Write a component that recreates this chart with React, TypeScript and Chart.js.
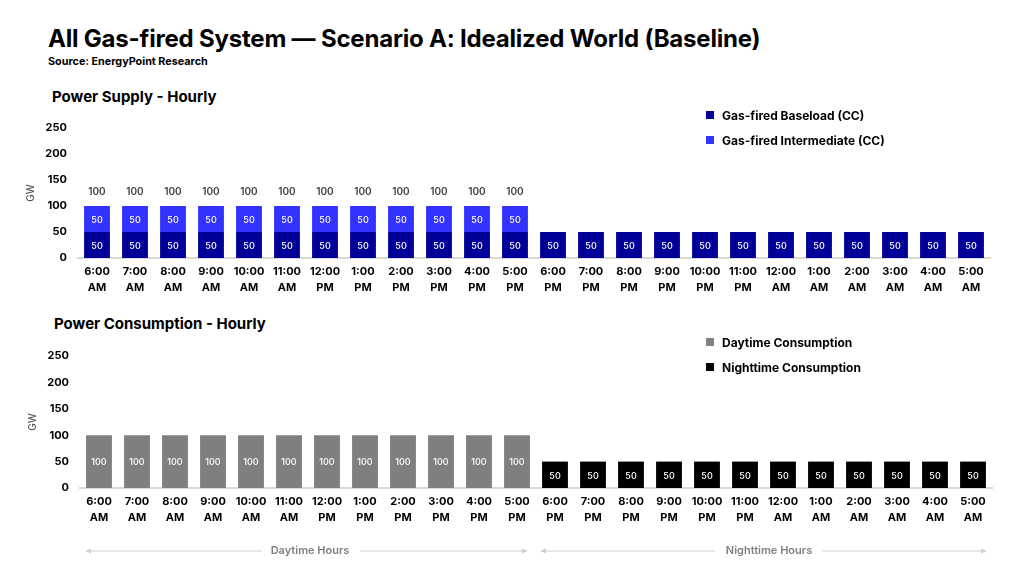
import React, { useEffect, useRef } from 'react';
import { Chart, registerables } from 'chart.js';
Chart.register(...registerables);

const hourLabels: string[][] = [
  ['6:00', 'AM'], ['7:00', 'AM'], ['8:00', 'AM'], ['9:00', 'AM'], ['10:00', 'AM'], ['11:00', 'AM'],
  ['12:00', 'PM'], ['1:00', 'PM'], ['2:00', 'PM'], ['3:00', 'PM'], ['4:00', 'PM'], ['5:00', 'PM'],
  ['6:00', 'PM'], ['7:00', 'PM'], ['8:00', 'PM'], ['9:00', 'PM'], ['10:00', 'PM'], ['11:00', 'PM'],
  ['12:00', 'AM'], ['1:00', 'AM'], ['2:00', 'AM'], ['3:00', 'AM'], ['4:00', 'AM'], ['5:00', 'AM'],
];

const supplyBaseload = [50, 50, 50, 50, 50, 50, 50, 50, 50, 50, 50, 50, 50, 50, 50, 50, 50, 50, 50, 50, 50, 50, 50, 50];
const supplyIntermediate = [50, 50, 50, 50, 50, 50, 50, 50, 50, 50, 50, 50, 0, 0, 0, 0, 0, 0, 0, 0, 0, 0, 0, 0];
const consumptionDay = [100, 100, 100, 100, 100, 100, 100, 100, 100, 100, 100, 100, null, null, null, null, null, null, null, null, null, null, null, null];
const consumptionNight = [null, null, null, null, null, null, null, null, null, null, null, null, 50, 50, 50, 50, 50, 50, 50, 50, 50, 50, 50, 50];

const yMax = 250;
const yStep = 50;

const FONT = 'Inter, "Open Sans", sans-serif';

const COLORS = {
  baseload: '#000099',
  intermediate: '#3333FF',
  day: '#7F7F7F',
  night: '#000000',
};

const valueLabels = {
  id: 'valueLabels',
  afterDatasetsDraw(chart: any, _args: any, opts: any) {
    const ctx = chart.ctx;
    ctx.save();
    ctx.textAlign = 'center';
    ctx.textBaseline = 'middle';
    ctx.font = `500 9px ${FONT}`;
    ctx.fillStyle = '#FFFFFF';
    chart.data.datasets.forEach((ds: any, di: number) => {
      const meta = chart.getDatasetMeta(di);
      meta.data.forEach((bar: any, i: number) => {
        const v = ds.data[i];
        if (v == null || v === 0) return;
        const p = bar.getProps(['x', 'y', 'base'], true);
        ctx.fillText(String(v), p.x, (p.y + p.base) / 2 + 1);
      });
    });
    if (opts && opts.showTotals) {
      ctx.font = `600 10px ${FONT}`;
      ctx.fillStyle = '#404040';
      const n = chart.data.labels.length;
      const lastMeta = chart.getDatasetMeta(chart.data.datasets.length - 1);
      for (let i = 0; i < n; i++) {
        const top = chart.data.datasets[chart.data.datasets.length - 1].data[i];
        if (!top) continue;
        let sum = 0;
        chart.data.datasets.forEach((ds: any) => { sum += ds.data[i] || 0; });
        const p = lastMeta.data[i].getProps(['x', 'y'], true);
        ctx.fillText(String(sum), p.x, p.y - 14);
      }
    }
    ctx.restore();
  },
};

function makeOptions(showTotals: boolean, padLeft: number): any {
  return {
    animation: false,
    responsive: false,
    maintainAspectRatio: false,
    layout: { padding: { top: 18, left: padLeft, right: 34 + (18 - padLeft), bottom: 0 } },
    plugins: {
      legend: { display: false },
      tooltip: { enabled: false },
      valueLabels: { showTotals },
    },
    scales: {
      x: {
        stacked: true,
        grid: { display: false, drawTicks: false },
        border: { display: true, color: '#D9D9D9', width: 2 },
        ticks: {
          color: '#000000',
          font: { family: FONT, size: 11, weight: 'bold', lineHeight: 1.45 },
          maxRotation: 0,
          autoSkip: false,
          padding: 6,
        },
        afterFit: (s: any) => { s.height = 45; },
      },
      y: {
        stacked: true,
        min: 0,
        max: yMax,
        grid: { display: false, drawTicks: false },
        border: { display: false },
        ticks: {
          stepSize: yStep,
          color: '#000000',
          font: { family: FONT, size: 11, weight: 'bold' },
          padding: 11,
        },
        title: {
          display: true,
          text: 'GW',
          color: '#595959',
          font: { family: FONT, size: 10, weight: '500' },
          padding: { top: 7, bottom: 0 },
        },
        afterFit: (s: any) => { s.width = 60; },
      },
    },
  };
}

function BarChart(props: { datasets: any[]; showTotals: boolean; padLeft: number; width: number; height: number; style: any }) {
  const ref = useRef<HTMLCanvasElement | null>(null);
  useEffect(() => {
    if (!ref.current) return;
    const chart = new Chart(ref.current, {
      type: 'bar',
      data: { labels: hourLabels as any, datasets: props.datasets },
      options: makeOptions(props.showTotals, props.padLeft),
      plugins: [valueLabels as any],
    });
    return () => chart.destroy();
  }, []);
  return <canvas ref={ref} width={props.width} height={props.height} style={{ position: 'absolute', width: props.width, height: props.height, ...props.style }} />;
}

const barStyle = { categoryPercentage: 1, barPercentage: 0.68 };

function LegendItem(props: { color: string; text: string; x: number; y: number }) {
  return (
    <div style={{ position: 'absolute', left: props.x, top: props.y - 8, height: 16, display: 'flex', alignItems: 'center', fontFamily: FONT, fontWeight: 700, fontSize: 12, color: '#000', whiteSpace: 'nowrap' }}>
      <span style={{ display: 'inline-block', width: 8, height: 8, background: props.color, marginRight: 8 }} />
      {props.text}
    </div>
  );
}

function Bracket(props: { x1: number; x2: number; y: number; text: string; gapL: number; gapR: number; mid: number }) {
  const { x1, x2, y, gapL, gapR, mid } = props;
  return (
    <>
      <svg style={{ position: 'absolute', left: 0, top: 0 }} width={1024} height={576}>
        <line x1={x1 + 4} y1={y} x2={gapL} y2={y} stroke="#D0D0D0" strokeWidth={1} />
        <line x1={gapR} y1={y} x2={x2 - 4} y2={y} stroke="#D0D0D0" strokeWidth={1} />
        <polygon points={`${x1},${y} ${x1 + 6},${y - 2.5} ${x1 + 6},${y + 2.5}`} fill="#D0D0D0" />
        <polygon points={`${x2},${y} ${x2 - 6},${y - 2.5} ${x2 - 6},${y + 2.5}`} fill="#D0D0D0" />
      </svg>
      <div style={{ position: 'absolute', left: mid - 100, width: 200, top: y - 9, height: 16, lineHeight: '16px', textAlign: 'center', fontFamily: FONT, fontWeight: 600, fontSize: 11, color: '#808080' }}>
        {props.text}
      </div>
    </>
  );
}

export default function App() {
  const supplyDatasets = [
    { label: 'Gas-fired Baseload (CC)', data: supplyBaseload, backgroundColor: COLORS.baseload, ...barStyle },
    { label: 'Gas-fired Intermediate (CC)', data: supplyIntermediate, backgroundColor: COLORS.intermediate, ...barStyle },
  ];
  const consumptionDatasets = [
    { label: 'Daytime Consumption', data: consumptionDay, backgroundColor: COLORS.day, ...barStyle },
    { label: 'Nighttime Consumption', data: consumptionNight, backgroundColor: COLORS.night, ...barStyle },
  ];
  return (
    <div style={{ position: 'absolute', left: 0, top: 0, width: 1024, height: 576, background: '#fff', overflow: 'hidden' }}>
      <div style={{ position: 'absolute', left: 48, top: 24, fontFamily: FONT, fontWeight: 700, fontSize: 24, color: '#000', whiteSpace: 'nowrap', letterSpacing: -0.2 }}>
        All Gas-fired System — Scenario A: Idealized World (Baseline)
      </div>
      <div style={{ position: 'absolute', left: 48, top: 55, fontFamily: FONT, fontWeight: 700, fontSize: 10.8, color: '#000', whiteSpace: 'nowrap' }}>
        Source: EnergyPoint Research
      </div>
      <div style={{ position: 'absolute', left: 52, top: 87, fontFamily: FONT, fontWeight: 700, fontSize: 15, color: '#000', whiteSpace: 'nowrap' }}>
        Power Supply - Hourly
      </div>
      <div style={{ position: 'absolute', left: 54, top: 314, fontFamily: FONT, fontWeight: 700, fontSize: 15, color: '#000', whiteSpace: 'nowrap' }}>
        Power Consumption - Hourly
      </div>

      <BarChart datasets={supplyDatasets} showTotals={true} padLeft={18} width={1024} height={193} style={{ left: 0, top: 110 }} />
      <BarChart datasets={consumptionDatasets} showTotals={false} padLeft={20} width={1024} height={195} style={{ left: 0, top: 338 }} />

      <LegendItem color={COLORS.baseload} text="Gas-fired Baseload (CC)" x={706} y={115} />
      <LegendItem color={COLORS.intermediate} text="Gas-fired Intermediate (CC)" x={706} y={140} />
      <LegendItem color={COLORS.day} text="Daytime Consumption" x={706} y={342} />
      <LegendItem color={COLORS.night} text="Nighttime Consumption" x={706} y={367} />

      <Bracket x1={85} x2={528} y={551} mid={310} text="Daytime Hours" gapL={262} gapR={360} />
      <Bracket x1={540} x2={987} y={551} mid={769} text="Nighttime Hours" gapL={715} gapR={822} />
    </div>
  );
}
